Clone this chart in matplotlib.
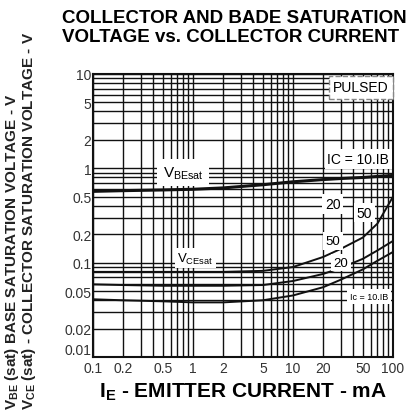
import matplotlib
matplotlib.use('Agg')

import matplotlib.pyplot as plt
from matplotlib.ticker import FixedLocator, NullFormatter

plt.rcParams['font.family'] = ['Liberation Sans', 'DejaVu Sans']

# emitter current (mA)
ie = [0.1, 0.2, 0.5, 1, 2, 5, 10, 20, 30, 50, 70, 100]

# base-emitter saturation voltage (V)
vbe_sat = [0.57, 0.58, 0.59, 0.60, 0.62, 0.67, 0.72, 0.76, 0.78, 0.80, 0.82, 0.84]

# collector-emitter saturation voltage (V), IC/IB = 50, 20, 10
vce_50 = [0.080, 0.080, 0.080, 0.080, 0.080, 0.082, 0.090, 0.115, 0.140, 0.185, 0.260, 0.50]
vce_20 = [0.059, 0.058, 0.057, 0.057, 0.057, 0.058, 0.064, 0.076, 0.088, 0.110, 0.135, 0.170]
vce_10 = [0.041, 0.040, 0.039, 0.038, 0.038, 0.040, 0.045, 0.055, 0.066, 0.085, 0.105, 0.130]

x_ticks = [0.1, 0.2, 0.5, 1, 2, 5, 10, 20, 50, 100]
x_tick_labels = ['0.1', '0.2', '0.5', '1', '2', '5', '10', '20', '50', '100']
y_ticks = [0.01, 0.02, 0.05, 0.1, 0.2, 0.5, 1, 2, 5, 10]
y_tick_labels = ['0.01', '0.02', '0.05', '0.1', '0.2', '0.5', '1', '2', '5', '10']


def minor_positions(lo, hi):
    out = []
    d = lo
    while d < hi:
        for m in range(2, 10):
            out.append(d * m)
        d *= 10
    return out


fig = plt.figure(figsize=(4.14, 4.14), dpi=100)
ax = fig.add_axes([0.2246, 0.135, 0.7246, 0.684])
ax.set_xscale('log')
ax.set_yscale('log')
ax.set_xlim(0.1, 100)
ax.set_ylim(0.01, 10)

ax.xaxis.set_major_locator(FixedLocator(x_ticks))
ax.xaxis.set_minor_locator(FixedLocator(minor_positions(0.1, 100)))
ax.yaxis.set_major_locator(FixedLocator(y_ticks))
ax.yaxis.set_minor_locator(FixedLocator(minor_positions(0.01, 10)))
ax.set_xticklabels(x_tick_labels)
ax.set_yticklabels(y_tick_labels)
ax.xaxis.set_minor_formatter(NullFormatter())
ax.yaxis.set_minor_formatter(NullFormatter())
ax.tick_params(which='both', length=0, labelsize=10, colors='#333333')
ax.tick_params(axis='y', pad=1)
ax.tick_params(axis='x', pad=3)
# lift the bottom y label so it clears the first x label
ax.get_yticklabels()[0].set_verticalalignment('bottom')

ax.grid(which='both', color='#111111', linewidth=1.0)
for sp in ax.spines.values():
    sp.set_linewidth(1.5)
    sp.set_color('#111111')

ax.plot(ie, vbe_sat, color='#111111', linewidth=2.2)
ax.plot(ie, vce_50, color='#111111', linewidth=1.4)
ax.plot(ie, vce_20, color='#111111', linewidth=1.4)
ax.plot(ie, vce_10, color='#111111', linewidth=1.4)

box = dict(facecolor='white', edgecolor='none', pad=2)
ax.text(0.5, 0.9, r'V$_{\mathregular{BEsat}}$', fontsize=11, ha='left', va='center',
        bbox=dict(facecolor='white', edgecolor='none', pad=4))
ax.text(0.7, 0.112, r'V$_{\mathregular{CEsat}}$', fontsize=9.5, ha='left', va='center',
        bbox=box)
ax.text(90, 7.2, 'PULSED', fontsize=10, ha='right', va='center',
        bbox=dict(facecolor='white', edgecolor='#888888', pad=3, linestyle='--'))
ax.text(92, 1.25, 'IC = 10.IB', fontsize=10, ha='right', va='center', bbox=box)
ax.text(25, 0.42, '20', fontsize=10, ha='center', va='center', bbox=box)
ax.text(52, 0.34, '50', fontsize=10, ha='center', va='center', bbox=box)
ax.text(25, 0.17, '50', fontsize=9.5, ha='center', va='center', bbox=box)
ax.text(30, 0.1, '20', fontsize=9.5, ha='center', va='center', bbox=box)
ax.text(90, 0.044, 'Ic = 10.IB', fontsize=6.5, ha='right', va='center', bbox=box)

fig.text(0.15, 0.975, 'COLLECTOR AND BADE SATURATION\nVOLTAGE vs. COLLECTOR CURRENT',
         fontsize=13.5, fontweight='bold', ha='left', va='top', linespacing=1.1)

ax.set_xlabel(r'I$_{\mathregular{E}}$ - EMITTER CURRENT - mA', fontsize=15,
              fontweight='bold', labelpad=4)

fig.text(0.03, 0.01, r'V$_{\mathregular{BE}}$ (sat) BASE SATURATION VOLTAGE - V',
         rotation=90, fontsize=11, fontweight='bold', ha='center', va='bottom',
         color='#222222')
fig.text(0.07, 0.01, r'V$_{\mathregular{CE}}$ (sat) - COLLECTOR SATURATION VOLTAGE - V',
         rotation=90, fontsize=11, fontweight='bold', ha='center', va='bottom',
         color='#222222')

fig.savefig('out.png', dpi=100)
